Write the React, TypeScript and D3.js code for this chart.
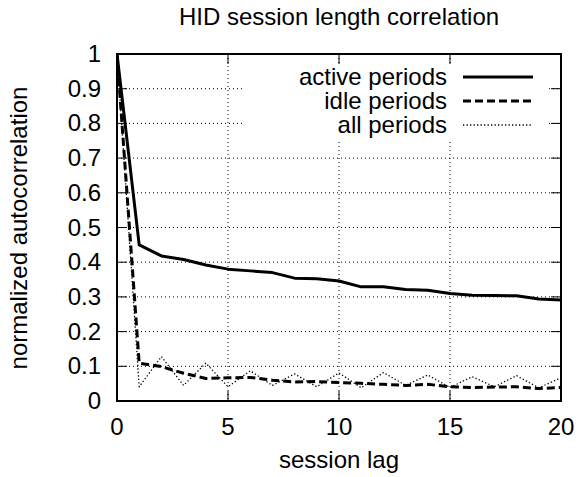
import React from "react";
import * as d3 from "d3";

const lags = d3.range(0, 21);
const activePeriods = [1.0, 0.45, 0.418, 0.408, 0.392, 0.38, 0.375, 0.37, 0.354, 0.352, 0.346, 0.329, 0.329, 0.321, 0.319, 0.31, 0.305, 0.304, 0.303, 0.294, 0.291];
const idlePeriods = [1.0, 0.109, 0.099, 0.08, 0.065, 0.067, 0.068, 0.06, 0.055, 0.056, 0.053, 0.051, 0.048, 0.045, 0.048, 0.041, 0.039, 0.04, 0.041, 0.036, 0.039];
const allPeriods = [1.0, 0.041, 0.128, 0.045, 0.109, 0.041, 0.087, 0.045, 0.078, 0.041, 0.081, 0.038, 0.082, 0.045, 0.075, 0.039, 0.07, 0.041, 0.073, 0.038, 0.067];
const xTicks = [0, 5, 10, 15, 20];
const yTicks = [0, 0.1, 0.2, 0.3, 0.4, 0.5, 0.6, 0.7, 0.8, 0.9, 1];
const yTickLabels = ["0", "0.1", "0.2", "0.3", "0.4", "0.5", "0.6", "0.7", "0.8", "0.9", "1"];
const seriesNames = ["active periods", "idle periods", "all periods"];

const W = 579, H = 477;
const L = 117, R = 561, T = 54, B = 401;
const FONT = "'Liberation Sans', Arial, Helvetica, sans-serif";
const FS = 24;

export default function App() {
  const x = d3.scaleLinear().domain([0, 20]).range([L, R]);
  const y = d3.scaleLinear().domain([0, 1]).range([B, T]);
  const line = d3.line<number>().x((_, i) => x(lags[i])).y((d) => y(d));

  const styles = [
    { w: 3, dash: undefined as string | undefined },
    { w: 3, dash: "8,4" },
    { w: 1.3, dash: "1.3,2.2" },
  ];
  const data = [activePeriods, idlePeriods, allPeriods];
  const legendRows = [77, 101, 125];

  return (
    <svg width={W} height={H} style={{ position: "absolute", left: 0, top: 0, background: "#fff" }} fontFamily={FONT}>
      <defs>
        <clipPath id="plotclip">
          <rect x={L} y={T - 2} width={R - L} height={B - T + 2} />
        </clipPath>
      </defs>
      <rect x={0} y={0} width={W} height={H} fill="#fff" />
      {/* grid */}
      <g stroke="#000" strokeWidth={1} strokeDasharray="1,3" fill="none">
        {yTicks.slice(1, -1).map((t) => (
          <line key={"gy" + t} x1={L} x2={R} y1={y(t)} y2={y(t)} />
        ))}
        {xTicks.slice(1, -1).map((t) => (
          <line key={"gx" + t} x1={x(t)} x2={x(t)} y1={T} y2={B} />
        ))}
      </g>
      {/* legend background */}
      <rect x={244} y={63} width={305} height={77} fill="#fff" />
      {/* data lines */}
      <g clipPath="url(#plotclip)" fill="none" stroke="#000" strokeLinejoin="round">
        {data.map((d, i) => (
          <path key={i} d={line(d) || ""} strokeWidth={styles[i].w} strokeDasharray={styles[i].dash} />
        ))}
      </g>
      {/* ticks */}
      <g stroke="#000" strokeWidth={1}>
        {yTicks.map((t) => (
          <g key={"ty" + t}>
            <line x1={L} x2={L + 10} y1={y(t)} y2={y(t)} />
            <line x1={R} x2={R - 10} y1={y(t)} y2={y(t)} />
          </g>
        ))}
        {xTicks.map((t) => (
          <g key={"tx" + t}>
            <line x1={x(t)} x2={x(t)} y1={B} y2={B - 10} />
            <line x1={x(t)} x2={x(t)} y1={T} y2={T + 10} />
          </g>
        ))}
      </g>
      {/* frame */}
      <rect x={L} y={T} width={R - L} height={B - T} fill="none" stroke="#000" strokeWidth={2} />
      {/* tick labels */}
      <g fontSize={FS} fill="#000">
        {yTicks.map((t, i) => (
          <text key={"ly" + t} x={101} y={y(t) + 8} textAnchor="end">{yTickLabels[i]}</text>
        ))}
        {xTicks.map((t) => (
          <text key={"lx" + t} x={x(t)} y={435} textAnchor="middle">{t}</text>
        ))}
        <text x={(L + R) / 2} y={25} textAnchor="middle">HID session length correlation</text>
        <text x={(L + R) / 2} y={468} textAnchor="middle">session lag</text>
        <text transform={`translate(27,228) rotate(-90)`} textAnchor="middle">normalized autocorrelation</text>
      </g>
      {/* legend */}
      <g fontSize={FS}>
        {seriesNames.map((n, i) => (
          <g key={n}>
            <text x={447} y={legendRows[i] + 8} textAnchor="end">{n}</text>
            <line x1={463} x2={533} y1={legendRows[i]} y2={legendRows[i]} stroke="#000" strokeWidth={styles[i].w} strokeDasharray={styles[i].dash} />
          </g>
        ))}
      </g>
    </svg>
  );
}
